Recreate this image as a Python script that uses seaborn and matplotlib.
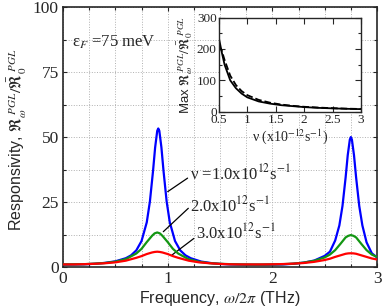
import matplotlib
matplotlib.use("Agg")
import matplotlib.pyplot as plt
import seaborn as sns
import pandas as pd
from matplotlib.ticker import MultipleLocator

# main panel: responsivity vs frequency for three collision frequencies
freq_blue = [0.0, 0.1, 0.2, 0.3, 0.4, 0.5, 0.6, 0.65, 0.7, 0.75, 0.8, 0.83, 0.86, 0.88,
             0.9, 0.91, 0.92, 0.94, 0.96, 0.99, 1.02, 1.07, 1.12, 1.17, 1.22, 1.32, 1.42,
             1.5, 1.6, 1.7, 1.8, 1.9, 2.0, 2.1, 2.2, 2.3, 2.4, 2.5, 2.55, 2.6, 2.64, 2.67,
             2.7, 2.72, 2.74, 2.75, 2.76, 2.78, 2.8, 2.83, 2.86, 2.9, 2.95, 3.0]
resp_blue = [0.9, 0.95, 1.05, 1.25, 1.6, 2.2, 3.4, 4.5, 6.4, 10.0, 17.2, 25.2, 37.0, 46.0,
             52.4, 53.3, 52.4, 46.0, 37.0, 25.2, 17.2, 10.0, 6.4, 4.5, 3.4, 2.1, 1.5,
             1.2, 1.0, 0.9, 0.85, 0.85, 0.9, 1.0, 1.25, 1.7, 2.5, 4.3, 5.9, 10.2, 16.0, 23.5,
             34.5, 43.0, 49.0, 50.0, 49.0, 43.0, 34.5, 23.5, 16.0, 9.5, 5.3, 3.7]

freq_wide = [0.0, 0.1, 0.2, 0.3, 0.4, 0.5, 0.6, 0.7, 0.75, 0.8, 0.85, 0.875, 0.9, 0.925, 0.95,
             1.0, 1.05, 1.1, 1.2, 1.3, 1.4, 1.5, 1.6, 1.7, 1.8, 1.9, 2.0, 2.1, 2.2, 2.3,
             2.4, 2.5, 2.55, 2.6, 2.65, 2.7, 2.725, 2.75, 2.775, 2.8, 2.85, 2.9, 2.95, 3.0]
resp_green = [1.0, 1.05, 1.1, 1.3, 1.55, 2.05, 3.05, 5.2, 7.0, 9.6, 12.0, 12.95, 13.3, 12.95, 12.0,
              9.6, 7.0, 5.2, 3.0, 2.0, 1.5, 1.25, 1.1, 1.0, 0.95, 0.95, 1.0, 1.1, 1.3, 1.7,
              2.4, 3.7, 4.8, 6.5, 8.9, 11.4, 12.0, 12.3, 12.0, 11.4, 8.9, 6.5, 4.8, 3.9]
resp_red = [1.0, 1.0, 1.1, 1.25, 1.45, 1.8, 2.45, 3.55, 4.2, 5.0, 5.6, 5.8, 5.9, 5.8, 5.6,
            5.0, 4.2, 3.55, 2.45, 1.8, 1.45, 1.2, 1.05, 1.0, 1.0, 1.0, 1.05, 1.15, 1.3, 1.55,
            2.0, 2.7, 3.2, 3.9, 4.5, 5.1, 5.25, 5.3, 5.25, 5.1, 4.5, 3.9, 3.3, 2.9]

# inset: peak responsivity vs collision frequency
nu = [0.5, 0.55, 0.6, 0.7, 0.8, 0.9, 1.0, 1.2, 1.4, 1.6, 1.8, 2.0, 2.25, 2.5, 2.75, 3.0]
max_solid = [235, 190, 150, 100, 75, 58, 46, 33, 26, 21, 18, 15, 12.5, 11, 9.5, 8.5]
max_dashed = [210, 195, 165, 115, 85, 66, 53, 38, 29, 23, 19, 16, 13.5, 11.5, 10, 9]

sns.set_style("ticks")
plt.rcParams['font.family'] = ['Liberation Serif', 'DejaVu Serif']
plt.rcParams['mathtext.fontset'] = 'stix'

fig = plt.figure(figsize=(3.82, 3.08), dpi=100)
ax = fig.add_axes([0.165, 0.133, 0.822, 0.844])

df_b = pd.DataFrame({'f': freq_blue, 'r': resp_blue})
df_w = pd.DataFrame({'f': freq_wide, 'g': resp_green, 'r': resp_red})
sns.lineplot(data=df_b, x='f', y='r', ax=ax, color='#0000ff', lw=1.6, zorder=3)
sns.lineplot(data=df_w, x='f', y='g', ax=ax, color='#139613', lw=1.6, zorder=4)
sns.lineplot(data=df_w, x='f', y='r', ax=ax, color='#ff0000', lw=1.6, zorder=5)

ax.set_xlim(0, 3)
ax.set_ylim(0, 100)
ax.xaxis.set_major_locator(MultipleLocator(1))
ax.xaxis.set_minor_locator(MultipleLocator(0.25))
ax.yaxis.set_major_locator(MultipleLocator(25))
ax.yaxis.set_minor_locator(MultipleLocator(12.5))
ax.grid(which='both', color='#b0b0b0', ls=':', lw=0.7)
ax.tick_params(which='both', direction='in', top=True, right=True, labelsize=12.5,
               width=0.8, length=3, pad=3)
ax.tick_params(which='minor', length=2)
for s in ax.spines.values():
    s.set_linewidth(1.2)

ax.set_xlabel(r'Frequency, $\omega/2\pi$ (THz)', fontfamily='Liberation Sans', fontsize=11.5,
              labelpad=1)
ax.set_ylabel(r'Responsivity, $\Re_{\omega}^{\ PGL}/\bar{\Re}_{0}^{\ PGL}$',
              fontfamily='Liberation Sans', fontsize=11.5)
ax.yaxis.set_label_coords(-0.108, 0.49)

ax.text(0.083, 84.7, r'ε$_{F}$ =75 meV', fontsize=12)
ax.text(1.213, 33.8, r'ν =1.0x10$^{12}$s$^{-1}$', fontsize=12)
ax.text(1.213, 21.3, r'2.0x10$^{12}$s$^{-1}$', fontsize=12)
ax.text(1.27, 11.0, r'3.0x10$^{12}$s$^{-1}$', fontsize=12)
lead = dict(arrowstyle='-', color='k', lw=0.9, shrinkA=0, shrinkB=0)
ax.annotate('', xy=(1.0, 29), xytext=(1.19, 34.2), arrowprops=lead)
ax.annotate('', xy=(0.958, 13.6), xytext=(1.197, 22.6), arrowprops=lead)
ax.annotate('', xy=(1.04, 4.6), xytext=(1.25, 11.0), arrowprops=lead)

# inset
axin = fig.add_axes([0.573, 0.637, 0.372, 0.306])
axin.set_facecolor('white')
sns.lineplot(x=nu, y=max_solid, ax=axin, color='k', lw=1.3)
sns.lineplot(x=nu, y=max_dashed, ax=axin, color='k', lw=1.3, ls='--')
axin.set_xlim(0.5, 3)
axin.set_ylim(0, 300)
axin.yaxis.set_major_locator(MultipleLocator(100))
axin.yaxis.set_minor_locator(MultipleLocator(50))
axin.set_xticks([0.5, 1, 1.5, 2, 2.5, 3])
axin.set_xticklabels(['0.5', '1', '1.5', '2', '2.5', '3'])
axin.tick_params(which='both', direction='in', top=True, right=True, labelsize=9.5,
                 width=0.8, length=4, pad=1.5)
axin.tick_params(which='minor', length=2.5)
for s in axin.spines.values():
    s.set_linewidth(1.0)
axin.set_xlabel(r'ν (x10$^{-12}$s$^{-1}$)', fontsize=10, labelpad=1)
axin.set_ylabel(r'Max $\Re_{\omega}^{\ PGL}/\bar{\Re}_{0}^{\ PGL}$',
                fontfamily='Liberation Sans', fontsize=9.5, labelpad=1)

fig.savefig('out.png', dpi=100)
